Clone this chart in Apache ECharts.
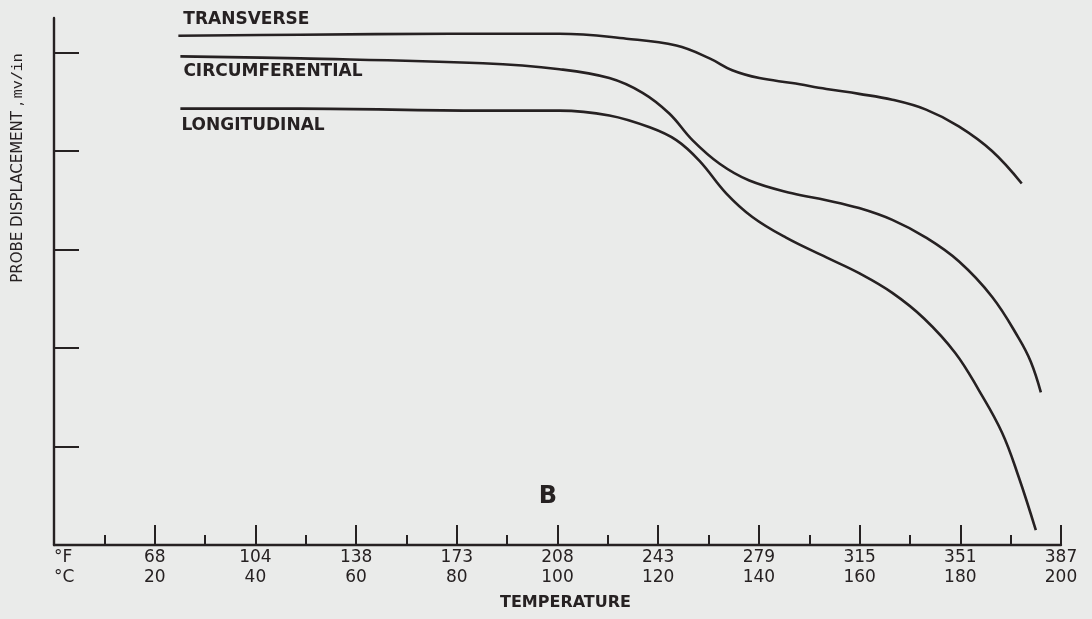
<!DOCTYPE html>
<html><head><meta charset="utf-8">
<script src="https://cdn.jsdelivr.net/npm/echarts@6/dist/echarts.min.js"></script>
<style>html,body{margin:0;padding:0;background:#eaebea;} #c{width:1092px;height:619px;}</style>
</head><body><div id="c"></div>
<script>
// Temperature (°C) and probe displacement readings (arbitrary units, one unit per y tick)
const transverseX = [24.7, 48.9, 78.6, 100.4, 113.7, 123.6, 130.2, 134.7, 140.1, 146.6, 153.4, 159.9, 166.5, 173.2, 179.7, 186.3, 192.2];
const transverseY = [5.17, 5.18, 5.19, 5.19, 5.14, 5.07, 4.94, 4.82, 4.74, 4.69, 4.63, 4.58, 4.52, 4.42, 4.25, 4.00, 3.67];
const circumX = [25.1, 48.9, 85.2, 100.4, 110.3, 116.9, 122.2, 126.8, 132.2, 138.1, 146.6, 153.4, 159.9, 166.5, 173.2, 179.7, 186.3, 191.6, 194.0, 196.0];
const circumY = [4.96, 4.94, 4.89, 4.83, 4.74, 4.59, 4.38, 4.11, 3.87, 3.70, 3.57, 3.50, 3.42, 3.30, 3.12, 2.88, 2.52, 2.10, 1.86, 1.55];
const longX = [25.1, 48.9, 85.2, 100.4, 110.3, 118.3, 123.6, 128.2, 133.5, 138.7, 145.4, 153.4, 159.9, 166.5, 172.8, 179.0, 183.7, 188.3, 191.6, 195.0];
const longY = [4.43, 4.43, 4.41, 4.41, 4.36, 4.24, 4.11, 3.90, 3.57, 3.33, 3.12, 2.92, 2.76, 2.56, 2.30, 1.95, 1.57, 1.14, 0.69, 0.15];
const seriesNames = ['TRANSVERSE', 'CIRCUMFERENTIAL', 'LONGITUDINAL'];
// Tick labels
const fahrenheitLabels = ['°F', '68', '104', '138', '173', '208', '243', '279', '315', '351', '387'];
const celsiusLabels = ['°C', '20', '40', '60', '80', '100', '120', '140', '160', '180', '200'];
const yTickValues = [1, 2, 3, 4, 5];

const ink = '#262122';
const font = 'DejaVu Sans';

function build(xs, ys, name, off) {
  return xs.map((x, i) => i === 0
    ? { value: [x, ys[i]], label: { show: true, formatter: name, position: off, color: ink,
        fontFamily: font, fontSize: 17, fontWeight: 'bold', align: 'left', verticalAlign: 'top' } }
    : [x, ys[i]]);
}

const chart = echarts.init(document.getElementById('c'));
const lineStyle = { color: ink, width: 2.6 };
chart.setOption({
  backgroundColor: '#eaebea',
  animation: false,
  grid: { left: 54, right: 31, top: 18, bottom: 74 },
  xAxis: {
    type: 'value', min: 0, max: 200, interval: 20,
    axisLine: { lineStyle: { color: ink, width: 2.4 } },
    axisTick: { inside: true, length: 20, lineStyle: { color: ink, width: 2 } },
    minorTick: { show: true, splitNumber: 2, length: 10, lineStyle: { color: ink, width: 2 } },
    splitLine: { show: false },
    axisLabel: {
      color: ink, fontFamily: font, fontSize: 17, lineHeight: 20, margin: 3,
      alignMinLabel: 'left',
      formatter: v => { const i = Math.round(v / 20); return fahrenheitLabels[i] + '\n' + celsiusLabels[i]; }
    },
    name: 'TEMPERATURE', nameLocation: 'middle', nameGap: 50,
    nameTextStyle: { color: ink, fontFamily: font, fontSize: 16, fontWeight: 'bold', padding: [0, 0, 0, 16] }
  },
  yAxis: {
    type: 'value', min: 0, max: 5.35, interval: 1,
    axisLine: { show: true, lineStyle: { color: ink, width: 2.4 } },
    axisTick: { show: true, inside: true, length: 25, customValues: yTickValues, lineStyle: { color: ink, width: 2 } },
    axisLabel: { show: false },
    splitLine: { show: false }
  },
  graphic: [
    { type: 'text', x: 18, y: 168, rotation: Math.PI / 2,
      style: { text: '{a|PROBE DISPLACEMENT ,} {b|mv/in}', align: 'center', verticalAlign: 'middle',
        rich: { a: { fontFamily: font, fontSize: 15, fill: ink }, b: { fontFamily: 'Liberation Mono', fontSize: 15, fill: ink } } } },
    { type: 'text', x: 548, y: 497, style: { text: 'B', align: 'center', verticalAlign: 'middle',
        font: 'bold 24px "DejaVu Sans"', fill: ink } }
  ],
  series: [
    { type: 'line', name: seriesNames[0], data: build(transverseX, transverseY, seriesNames[0], [5, -25]),
      smooth: 0.4, symbol: 'circle', symbolSize: 0, showSymbol: true, lineStyle, silent: true },
    { type: 'line', name: seriesNames[1], data: build(circumX, circumY, seriesNames[1], [3, 7]),
      smooth: 0.4, symbol: 'circle', symbolSize: 0, showSymbol: true, lineStyle, silent: true },
    { type: 'line', name: seriesNames[2], data: build(longX, longY, seriesNames[2], [1, 8]),
      smooth: 0.4, symbol: 'circle', symbolSize: 0, showSymbol: true, lineStyle, silent: true }
  ]
});
</script></body></html>
